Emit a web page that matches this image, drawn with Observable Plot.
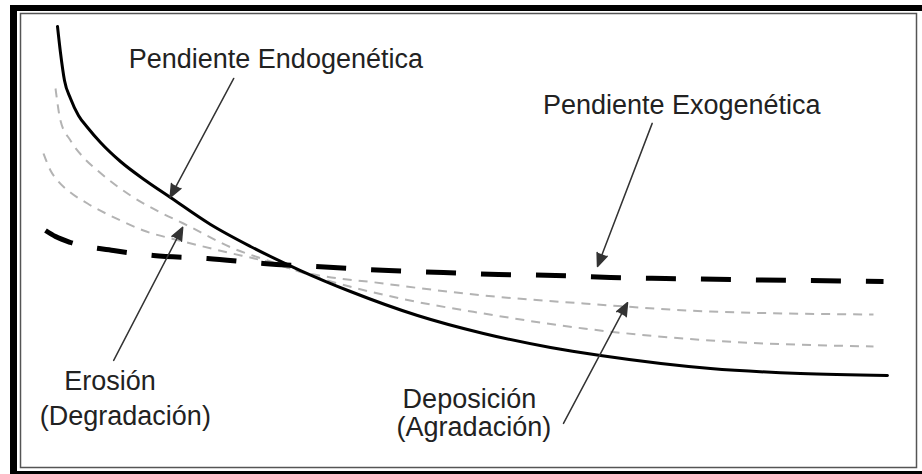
<!DOCTYPE html>
<html>
<head>
<meta charset="utf-8">
<script src="https://cdn.jsdelivr.net/npm/d3@7"></script>
<script src="https://cdn.jsdelivr.net/npm/@observablehq/plot@0.6"></script>
<style>
  html, body { margin: 0; padding: 0; background: #fff; }
  #wrap { position: relative; width: 922px; height: 474px; overflow: hidden; }
  #border { position: absolute; left: 10px; top: 5px; right: -20px; bottom: 0;
            border-left: 7px solid #000; border-top: 6px solid #000; border-bottom: 3px solid #000;
            pointer-events: none; }
</style>
</head>
<body>
<div id="wrap"><div id="chart"></div><div id="border"></div></div>
<script>
// Distance (0–100) and elevation (0–100)
const endoX = [4.13, 4.46, 4.91, 5.58, 6.47, 7.48, 8.93, 11.16, 13.95, 16.74, 21.21, 25.67, 31.25, 36.83, 44.31, 51.67, 59.15, 64.73, 77.01, 87.05, 96.76];
const endoY = [97.14, 91.41, 85.24, 81.28, 77.53, 74.89, 71.59, 67.40, 63.22, 59.47, 53.52, 48.68, 43.39, 38.77, 33.48, 29.52, 26.43, 24.67, 21.81, 20.70, 20.26];

const exoX = [2.79, 3.91, 5.58, 10.38, 14.84, 20.87, 27.12, 34.93, 41.07, 47.21, 53.35, 59.71, 65.85, 71.99, 96.32];
const exoY = [52.20, 50.88, 49.56, 47.80, 46.70, 46.04, 44.93, 44.05, 43.39, 42.95, 42.51, 42.29, 41.85, 41.63, 40.97];

const midAX = [3.91, 4.46, 5.58, 7.03, 8.59, 12.28, 15.63, 18.19, 23.77, 27.90, 33.15, 42.41, 51.67, 62.83, 77.01, 95.20];
const midAY = [83.48, 76.43, 72.03, 68.28, 65.42, 59.91, 56.17, 53.74, 48.24, 45.37, 41.85, 37.22, 33.92, 30.62, 27.97, 26.65];

const midBX = [2.57, 3.35, 4.13, 5.58, 7.48, 11.16, 13.73, 18.19, 22.66, 27.90, 31.25, 40.51, 51.67, 62.83, 77.01, 95.20];
const midBY = [69.16, 65.42, 63.22, 60.57, 58.15, 54.41, 52.20, 49.78, 47.58, 45.15, 43.17, 40.53, 37.89, 36.12, 34.36, 33.70];

const labelText = ["Pendiente Endogenética", "Pendiente Exogenética", "Erosión", "(Degradación)", "Deposición", "(Agradación)"];
const labelX = [28.5, 73.8, 10.0, 11.7, 50.1, 50.6];
const labelY = [89.9, 79.8, 19.0, 11.2, 15.0, 8.8];

const arrowX1 = [23.8, 70.5, 10.4, 60.6];
const arrowY1 = [85.7, 75.8, 23.6, 9.7];
const arrowX2 = [16.7, 64.4, 18.1, 67.75];
const arrowY2 = [59.5, 44.3, 52.9, 36.3];

const pts = (xs, ys) => xs.map((x, i) => ({x, y: ys[i]}));
const endo = pts(endoX, endoY);
const exo = pts(exoX, exoY);
const midA = pts(midAX, midAY);
const midB = pts(midBX, midBY);
const labels = labelText.map((t, i) => ({t, x: labelX[i], y: labelY[i]}));
const arrows = arrowX1.map((x1, i) => ({x1, y1: arrowY1[i], x2: arrowX2[i], y2: arrowY2[i]}));

const chart = Plot.plot({
  width: 922,
  height: 474,
  marginLeft: 20,
  marginRight: 6,
  marginTop: 13,
  marginBottom: 7,
  x: {domain: [0, 100], axis: null},
  y: {domain: [0, 100], axis: null},
  style: {background: "white", fontFamily: "'Liberation Sans', Arial, sans-serif"},
  marks: [
    Plot.frame({stroke: "#555", strokeWidth: 1.5}),
    Plot.line(midA, {x: "x", y: "y", curve: "monotone-x", stroke: "#b3b3b3", strokeWidth: 2, strokeDasharray: "9,7", strokeLinecap: "butt"}),
    Plot.line(midB, {x: "x", y: "y", curve: "monotone-x", stroke: "#b3b3b3", strokeWidth: 2, strokeDasharray: "9,7", strokeLinecap: "butt"}),
    Plot.line(exo, {x: "x", y: "y", curve: "monotone-x", stroke: "#000", strokeWidth: 5, strokeDasharray: "30,25", strokeLinecap: "butt"}),
    Plot.line(endo, {x: "x", y: "y", curve: "monotone-x", stroke: "#000", strokeWidth: 3}),
    Plot.arrow(arrows, {x1: "x1", y1: "y1", x2: "x2", y2: "y2", stroke: "#333", fill: "#333", strokeWidth: 1.5, headLength: 14, headAngle: 45}),
    Plot.text(labels, {x: "x", y: "y", text: "t", fontSize: 27, fill: "#222", textAnchor: "middle"})
  ]
});
document.getElementById("chart").appendChild(chart);
</script>
</body>
</html>
